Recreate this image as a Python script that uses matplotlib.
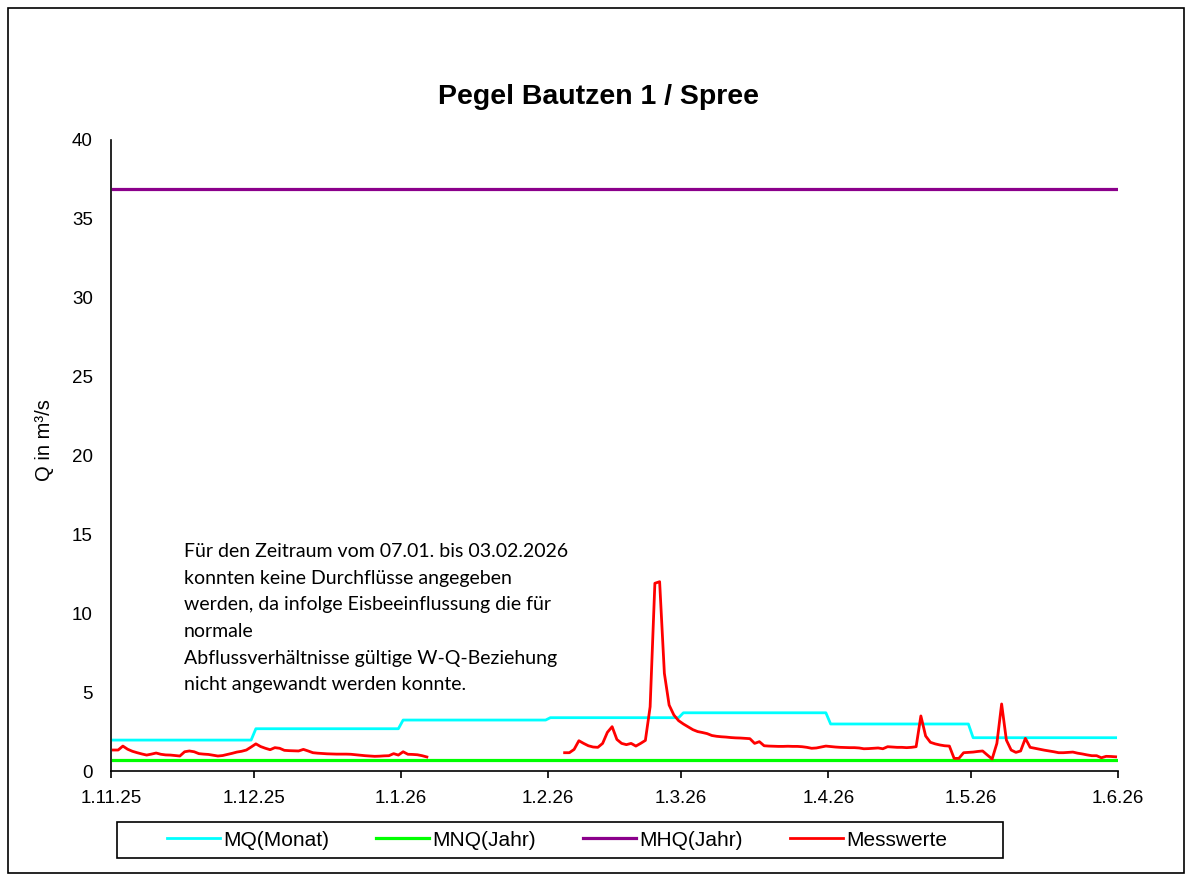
import numpy as np
import pandas as pd
import matplotlib
matplotlib.use("Agg")
import matplotlib.pyplot as plt
import matplotlib.dates as mdates
from matplotlib.patches import Rectangle
from matplotlib.ticker import FuncFormatter

# ---------------- data ----------------
title = "Pegel Bautzen 1 / Spree"
ylabel = "Q in m³/s"
start_date = "2025-11-01"
end_date = "2026-05-31"

# monthly mean discharge MQ(Monat), Nov 2025 .. May 2026
mq_months = ["2025-11", "2025-12", "2026-01", "2026-02", "2026-03", "2026-04", "2026-05"]
mq_values = [1.96, 2.68, 3.23, 3.38, 3.69, 2.98, 2.11]
mnq_jahr = 0.72
mhq_jahr = 36.9

# measured daily values, 01.11.2025 .. 06.01.2026
mess_start_1 = "2025-11-01"
messwerte_1 = [1.33, 1.33, 1.58, 1.38, 1.25, 1.16, 1.08, 1.01, 1.07, 1.14,
               1.06, 1.02, 1.01, 0.98, 0.95, 1.22, 1.27, 1.22, 1.10, 1.07,
               1.05, 1.00, 0.95, 0.98, 1.05, 1.12, 1.20, 1.25, 1.33, 1.52,
               1.72, 1.55, 1.44, 1.35, 1.48, 1.44, 1.31, 1.29, 1.28, 1.27,
               1.37, 1.27, 1.16, 1.13, 1.11, 1.09, 1.08, 1.07, 1.07, 1.07,
               1.06, 1.03, 1.00, 0.97, 0.95, 0.93, 0.94, 0.96, 0.97, 1.10,
               1.01, 1.22, 1.06, 1.05, 1.03, 0.97, 0.89]
# measured daily values, 04.02.2026 .. 31.05.2026
mess_start_2 = "2026-02-04"
messwerte_2 = [1.16, 1.16, 1.37, 1.92, 1.75, 1.60, 1.52, 1.50, 1.75, 2.45,
               2.81, 2.00, 1.75, 1.67, 1.75, 1.58, 1.75, 1.94, 4.07, 11.90,
               12.00, 6.19, 4.18, 3.55, 3.19, 2.98, 2.80, 2.62, 2.50, 2.44,
               2.37, 2.25, 2.20, 2.17, 2.15, 2.12, 2.10, 2.09, 2.07, 2.05,
               1.75, 1.86, 1.60, 1.58, 1.57, 1.56, 1.56, 1.57, 1.56, 1.56,
               1.54, 1.50, 1.44, 1.46, 1.52, 1.58, 1.55, 1.52, 1.50, 1.49,
               1.48, 1.48, 1.46, 1.41, 1.42, 1.44, 1.46, 1.41, 1.54, 1.52,
               1.50, 1.50, 1.48, 1.50, 1.54, 3.49, 2.22, 1.82, 1.72, 1.65,
               1.60, 1.58, 0.80, 0.80, 1.16, 1.18, 1.20, 1.24, 1.27, 1.01,
               0.76, 1.75, 4.25, 1.96, 1.33, 1.18, 1.27, 2.07, 1.50, 1.44,
               1.38, 1.32, 1.27, 1.22, 1.16, 1.16, 1.18, 1.20, 1.13, 1.08,
               1.02, 0.97, 0.97, 0.84, 0.93, 0.92, 0.90]

note = ("Für den Zeitraum vom 07.01. bis 03.02.2026\n"
        "konnten keine Durchflüsse angegeben\n"
        "werden, da infolge Eisbeeinflussung die für\n"
        "normale\n"
        "Abflussverhältnisse gültige W-Q-Beziehung\n"
        "nicht angewandt werden konnte.")

legend_labels = ["MQ(Monat)", "MNQ(Jahr)", "MHQ(Jahr)", "Messwerte"]
colors = ["#00FFFF", "#00FF00", "#8B008B", "#FF0000"]

# ---------------- build series ----------------
days = pd.date_range(start_date, end_date, freq="D") + pd.Timedelta(hours=12)
mq_map = dict(zip(mq_months, mq_values))
mq_series = pd.Series([mq_map[d.strftime("%Y-%m")] for d in days], index=days)
mnq_series = pd.Series(mnq_jahr, index=days)
mhq_series = pd.Series(mhq_jahr, index=days)

mess = pd.Series(np.nan, index=days)
i1 = pd.date_range(mess_start_1, periods=len(messwerte_1), freq="D") + pd.Timedelta(hours=12)
i2 = pd.date_range(mess_start_2, periods=len(messwerte_2), freq="D") + pd.Timedelta(hours=12)
mess.loc[i1] = messwerte_1
mess.loc[i2] = messwerte_2

# ---------------- plot ----------------
plt.rcParams["font.family"] = ["Liberation Sans", "DejaVu Sans"]
W, H = 1192, 877
fig = plt.figure(figsize=(W / 100, H / 100), dpi=100)
ax = fig.add_axes([111 / W, 1 - 771 / H, (1118 - 111) / W, (771 - 140) / H])

lw = 2.0
l1, = ax.plot(mq_series.index, mq_series.values, color=colors[0], lw=lw)
l2, = ax.plot(mnq_series.index, mnq_series.values, color=colors[1], lw=lw + 0.3)
l3, = ax.plot(mhq_series.index, mhq_series.values, color=colors[2], lw=lw + 0.3)
l4, = ax.plot(mess.index, mess.values, color=colors[3], lw=lw)

ax.set_xlim(pd.Timestamp("2025-11-01"), pd.Timestamp("2026-06-01"))
ax.set_ylim(0, 40)
ax.set_yticks(range(0, 41, 5))
ax.xaxis.set_major_locator(mdates.MonthLocator())
ax.xaxis.set_major_formatter(FuncFormatter(
    lambda v, p: (lambda d: f"{d.day}.{d.month}.{d.year % 100}")(mdates.num2date(v))))

for s in ["top", "right"]:
    ax.spines[s].set_visible(False)
for s in ["left", "bottom"]:
    ax.spines[s].set_color("black")
    ax.spines[s].set_linewidth(1.2)
ax.tick_params(axis="y", length=0, pad=13, labelsize=13.5)
ax.tick_params(axis="x", length=5, width=1.2, direction="out", pad=9, labelsize=13.5)

ax.set_ylabel(ylabel, fontsize=14.5)
ax.yaxis.set_label_coords((54 - 111) / 1007, (771 - 440) / 631)
fig.text(599 / W, 1 - 97 / H, title, fontsize=20.5, fontweight="bold",
         ha="center", va="center")

ax.text(184 / W, 1 - 543 / H, note, transform=fig.transFigure, fontsize=14,
        family=["Lato", "DejaVu Sans"], ha="left", va="top", linespacing=1.69)

# legend with its own frame box
fig.patches.append(Rectangle((117 / W, 1 - 858 / H), (1003 - 117) / W, 36 / H,
                             transform=fig.transFigure, fill=False,
                             edgecolor="black", lw=1.2))
fig.legend([l1, l2, l3, l4], legend_labels, loc="center",
           bbox_to_anchor=(557 / W, 1 - 840 / H), ncol=4, frameon=False,
           fontsize=15, handlelength=2.55, handletextpad=0.15,
           columnspacing=2.25)

# outer chart border
fig.patches.append(Rectangle((8 / W, 1 - 873 / H), (1184 - 8) / W, (873 - 8) / H,
                             transform=fig.transFigure, fill=False,
                             edgecolor="black", lw=1.2))

fig.savefig("out.png", dpi=100)
